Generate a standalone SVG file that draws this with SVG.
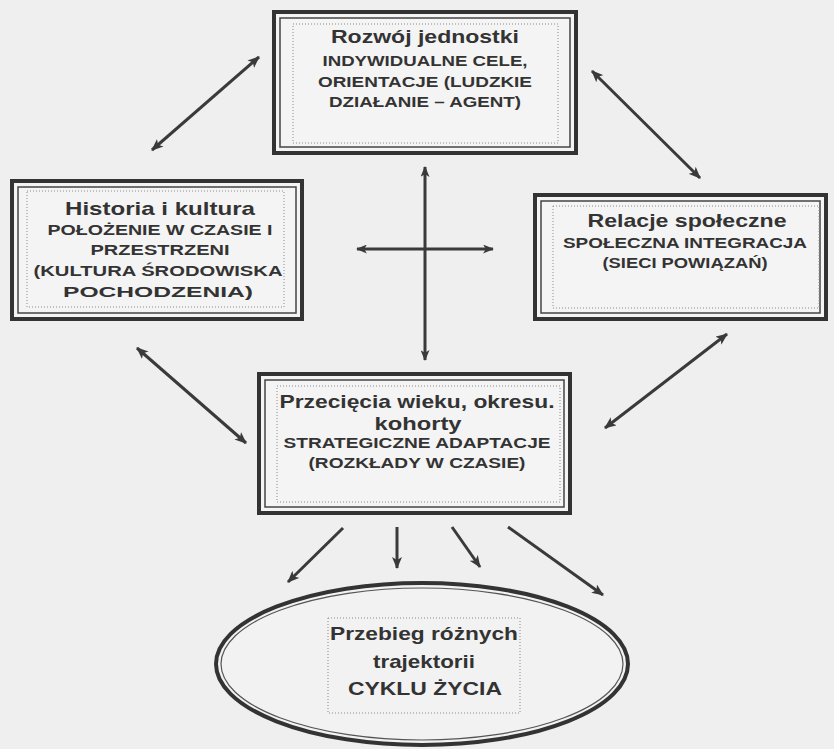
<svg xmlns="http://www.w3.org/2000/svg" width="834" height="749" viewBox="0 0 834 749">
<defs>
<marker id="ah" viewBox="0 0 12 10" refX="11" refY="5" markerWidth="12" markerHeight="10" markerUnits="userSpaceOnUse" orient="auto-start-reverse">
<path d="M0,0 L12,5 L0,10 L3,5 Z" fill="#3a3a3a"/>
</marker>
<marker id="ahs" viewBox="0 0 12 10" refX="11" refY="5" markerWidth="11" markerHeight="9" markerUnits="userSpaceOnUse" orient="auto-start-reverse">
<path d="M0,0 L12,5 L0,10 L3,5 Z" fill="#3a3a3a"/>
</marker>
</defs>
<style>
.outer{fill:#f4f4f4;stroke:#333;stroke-width:4}
.inner{fill:none;stroke:#444;stroke-width:1.5}
.dot{fill:none;stroke:#8a8a8a;stroke-width:1;stroke-dasharray:1 2}
.conn{stroke:#3a3a3a;stroke-width:3;fill:none}
text{font-family:"Liberation Sans",Arial,sans-serif;font-weight:bold;fill:#333;text-anchor:middle}
.t{font-size:19px}
.c{font-size:14.5px}
</style>
<rect width="834" height="749" fill="#efefef"/>

<g id="connectors">
<line class="conn" x1="152" y1="150" x2="259" y2="57" marker-start="url(#ah)" marker-end="url(#ah)"/>
<line class="conn" x1="592" y1="71" x2="700" y2="178" marker-start="url(#ah)" marker-end="url(#ah)"/>
<line class="conn" x1="137" y1="348" x2="246" y2="443" marker-start="url(#ah)" marker-end="url(#ah)"/>
<line class="conn" x1="605" y1="428" x2="727" y2="334" marker-start="url(#ah)" marker-end="url(#ah)"/>
<line class="conn" x1="425" y1="167" x2="425" y2="360" marker-start="url(#ahs)" marker-end="url(#ahs)"/>
<line class="conn" x1="357" y1="249" x2="493" y2="249" marker-start="url(#ahs)" marker-end="url(#ahs)"/>
<line class="conn" x1="343" y1="528" x2="288" y2="582" marker-end="url(#ah)"/>
<line class="conn" x1="397" y1="527" x2="397" y2="568" marker-end="url(#ah)"/>
<line class="conn" x1="452" y1="527" x2="480" y2="567" marker-end="url(#ah)"/>
<line class="conn" x1="508" y1="527" x2="603" y2="595" marker-end="url(#ah)"/>
</g>

<g id="node-rozwoj">
<rect class="outer" x="274" y="12" width="302" height="141"/>
<rect class="inner" x="280" y="18" width="290" height="129"/>
<rect class="dot" x="293" y="24" width="265" height="119"/>
<text class="t" x="425" y="43" textLength="188" lengthAdjust="spacingAndGlyphs">Rozwój jednostki</text>
<text class="c" x="425" y="66" textLength="205" lengthAdjust="spacingAndGlyphs">INDYWIDUALNE CELE,</text>
<text class="c" x="425" y="87" textLength="214" lengthAdjust="spacingAndGlyphs">ORIENTACJE (LUDZKIE</text>
<text class="c" x="425" y="107" textLength="192" lengthAdjust="spacingAndGlyphs">DZIAŁANIE – AGENT)</text>
</g>

<g id="node-historia">
<rect class="outer" x="12" y="181" width="290" height="138"/>
<rect class="inner" x="18" y="187" width="278" height="126"/>
<rect class="dot" x="27" y="191" width="257" height="116"/>
<text class="t" x="160" y="215" textLength="190" lengthAdjust="spacingAndGlyphs">Historia i kultura</text>
<text class="c" x="160" y="235" textLength="225" lengthAdjust="spacingAndGlyphs">POŁOŻENIE W CZASIE I</text>
<text class="c" x="160" y="255" textLength="139" lengthAdjust="spacingAndGlyphs">PRZESTRZENI</text>
<text class="c" x="158" y="276" textLength="249" lengthAdjust="spacingAndGlyphs">(KULTURA ŚRODOWISKA</text>
<text class="c" x="158" y="297" textLength="190" lengthAdjust="spacingAndGlyphs">POCHODZENIA)</text>
</g>

<g id="node-relacje">
<rect class="outer" x="535" y="195" width="291" height="124"/>
<rect class="inner" x="541" y="201" width="279" height="112"/>
<rect class="dot" x="553" y="206" width="266" height="102"/>
<text class="t" x="687" y="227" textLength="199" lengthAdjust="spacingAndGlyphs">Relacje społeczne</text>
<text class="c" x="685" y="248" textLength="244" lengthAdjust="spacingAndGlyphs">SPOŁECZNA INTEGRACJA</text>
<text class="c" x="685" y="268" textLength="165" lengthAdjust="spacingAndGlyphs">(SIECI POWIĄZAŃ)</text>
</g>

<g id="node-przeciecia">
<rect class="outer" x="259" y="374" width="311" height="139"/>
<rect class="inner" x="265" y="380" width="299" height="127"/>
<rect class="dot" x="277" y="386" width="283" height="116"/>
<text class="t" x="417" y="408" textLength="275" lengthAdjust="spacingAndGlyphs">Przecięcia wieku, okresu.</text>
<text class="t" x="418" y="430" textLength="87" lengthAdjust="spacingAndGlyphs">kohorty</text>
<text class="c" x="417" y="448" textLength="267" lengthAdjust="spacingAndGlyphs">STRATEGICZNE ADAPTACJE</text>
<text class="c" x="417" y="468" textLength="217" lengthAdjust="spacingAndGlyphs">(ROZKŁADY W CZASIE)</text>
</g>

<g id="node-przebieg">
<ellipse cx="422" cy="664" rx="206" ry="81" fill="#f2f2f2" stroke="#333" stroke-width="4"/>
<ellipse cx="422" cy="664" rx="201" ry="76" fill="none" stroke="#555" stroke-width="1.2"/>
<rect class="dot" x="328" y="618" width="192" height="95"/>
<text class="t" x="424" y="640" textLength="188" lengthAdjust="spacingAndGlyphs">Przebieg różnych</text>
<text class="t" x="424" y="668" textLength="102" lengthAdjust="spacingAndGlyphs">trajektorii</text>
<text class="t" x="425" y="695" textLength="154" lengthAdjust="spacingAndGlyphs">CYKLU ŻYCIA</text>
</g>
</svg>
